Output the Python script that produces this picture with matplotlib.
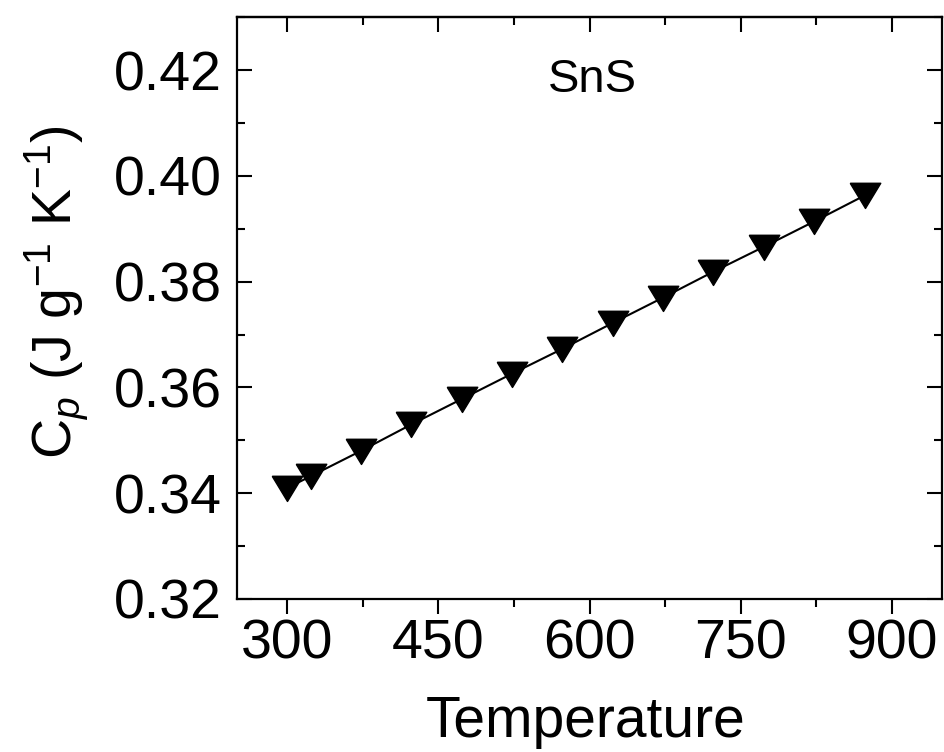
import matplotlib
matplotlib.use("Agg")
import matplotlib.pyplot as plt

# heat capacity of SnS
temperature = [300, 323, 373, 423, 473, 523, 573, 623, 673, 723, 773, 823, 873]
cp = [0.3410, 0.3432, 0.3480, 0.3530, 0.3578, 0.3626, 0.3673,
      0.3722, 0.3770, 0.3819, 0.3866, 0.3914, 0.3963]

x_ticks = [300, 450, 600, 750, 900]
y_ticks = [0.32, 0.34, 0.36, 0.38, 0.40, 0.42]

plt.rcParams['font.family'] = ['Liberation Sans', 'DejaVu Sans']
plt.rcParams['mathtext.fontset'] = 'custom'
plt.rcParams['mathtext.rm'] = 'Liberation Sans'
plt.rcParams['mathtext.it'] = 'Liberation Sans:italic'

fig = plt.figure(figsize=(9.45, 7.52), dpi=100)
ax = fig.add_axes([0.2508, 0.2035, 0.7462, 0.7735])

# flattened downward triangle like the original
tri = [(-1, 0.8), (1, 0.8), (0, -0.85), (-1, 0.8)]
ax.plot(temperature, cp, color='black', lw=1.5, marker=tri, ms=22,
        markerfacecolor='black', markeredgecolor='black')

ax.set_xlim(250, 950)
ax.set_ylim(0.32, 0.43)
ax.set_xticks(x_ticks)
ax.set_xticks([375, 525, 675, 825], minor=True)
ax.set_yticks(y_ticks)
ax.set_yticks([0.33, 0.35, 0.37, 0.39, 0.41, 0.43], minor=True)
ax.set_yticklabels([f"{v:.2f}" for v in y_ticks])

for s in ax.spines.values():
    s.set_linewidth(1.6)

ax.tick_params(axis='x', which='both', direction='out', bottom=True, top=False,
               labelsize=40, pad=3, width=1.5)
ax.tick_params(axis='x', which='major', length=11)
ax.tick_params(axis='x', which='minor', length=5.5)
ax.tick_params(axis='y', which='both', direction='in', left=True, right=True,
               labelsize=40, pad=11, width=1.5)
ax.tick_params(axis='y', which='major', length=11)
ax.tick_params(axis='y', which='minor', length=5.5)

# top ticks drawn inward via secondary axis
top = ax.secondary_xaxis('top')
top.set_xticks(x_ticks)
top.set_xticks([375, 525, 675, 825], minor=True)
top.tick_params(which='both', direction='in', labeltop=False, width=1.5)
top.tick_params(which='major', length=11)
top.tick_params(which='minor', length=5.5)
top.spines['top'].set_linewidth(1.6)

ax.text(0.5035, 0.892, 'SnS', transform=ax.transAxes, ha='center', va='center',
        fontsize=34)

fig.text(586 / 945, 1 - 737 / 752, 'Temperature', ha='center', va='baseline',
         fontsize=41)
fig.text(72 / 945, 1 - 292 / 752,
         r'$\mathrm{C}_{\mathit{p}}$ (J g$^{-1}$ K$^{-1}$)',
         rotation=90, rotation_mode='anchor', ha='center', va='baseline',
         fontsize=40)

fig.savefig('out.png', dpi=100)
